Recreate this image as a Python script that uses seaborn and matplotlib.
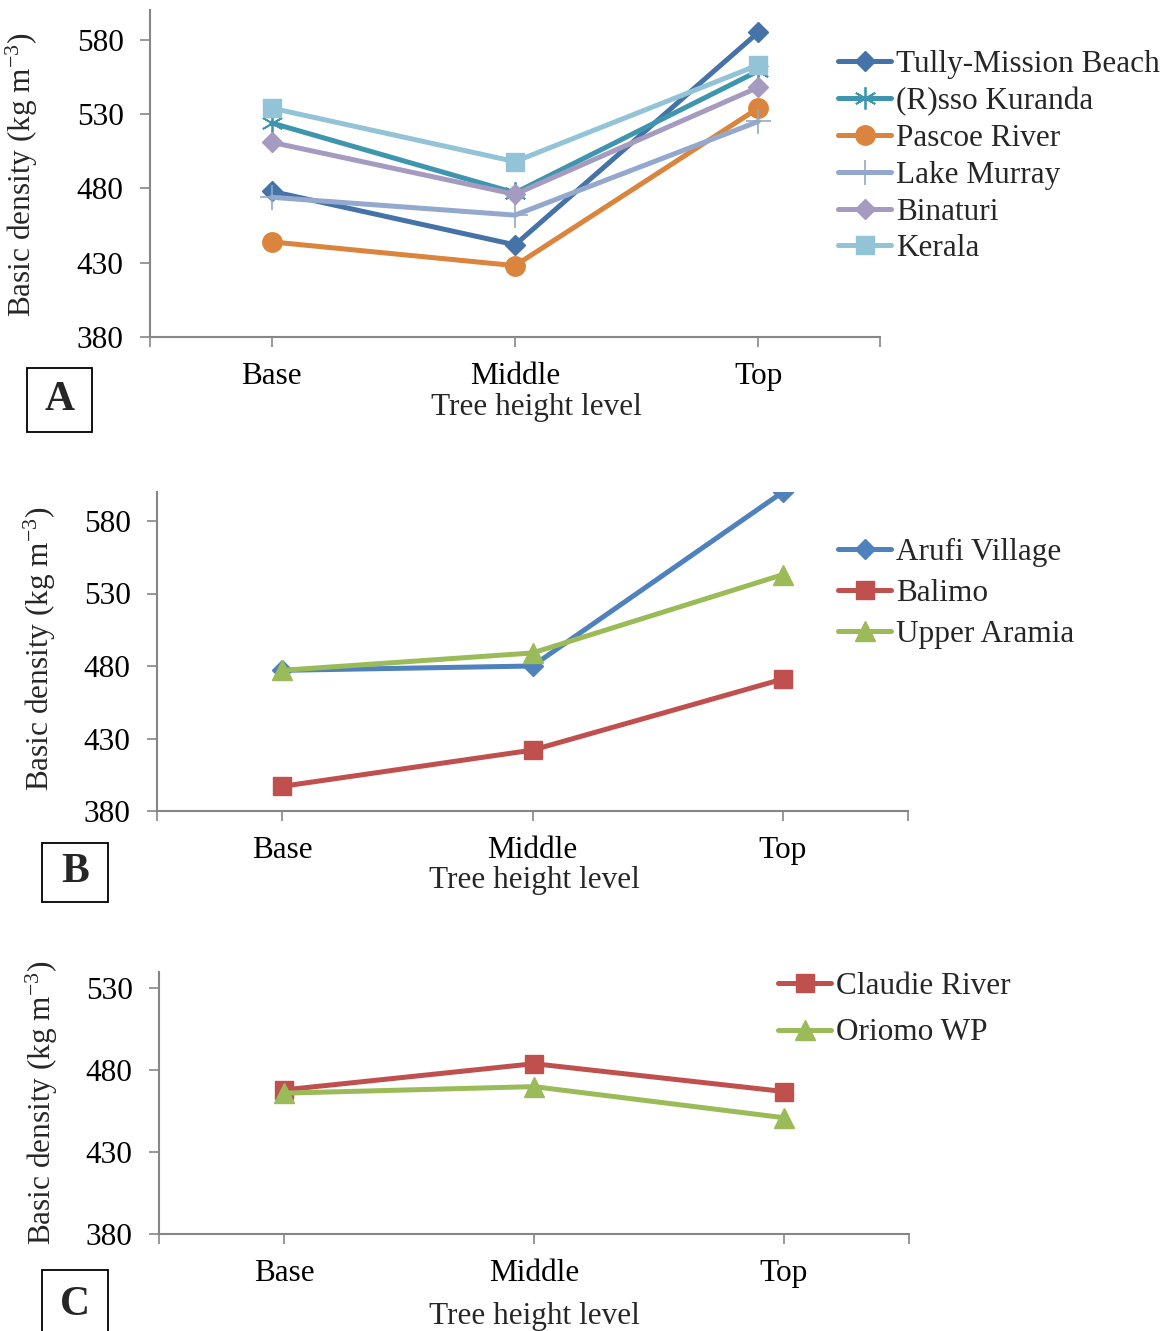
import numpy as np
import pandas as pd
import matplotlib
matplotlib.use("Agg")
import matplotlib.pyplot as plt
from matplotlib.patches import Rectangle
import seaborn as sns

# Tree height levels (category axis)
levels = ["Base", "Middle", "Top"]
y_ticks = [380, 430, 480, 530, 580]
y_ticks_c = [380, 430, 480, 530]

# Panel A: provenances
tully = [478, 442, 585]
kuranda = [524, 477, 559]
pascoe = [444, 428, 534]
lake_murray = [474, 462, 525]
binaturi = [511, 476, 548]
kerala = [534, 498, 563]

# Panel B
arufi = [477, 480, 600]
balimo = [397, 422, 471]
upper_aramia = [477, 489, 543]

# Panel C
claudie = [468, 484, 467]
oriomo = [466, 470, 451]

sns.set_theme(style="white")
plt.rcParams["font.family"] = ["Liberation Serif", "DejaVu Serif"]
plt.rcParams["mathtext.fontset"] = "custom"
plt.rcParams["mathtext.rm"] = "Liberation Serif"
plt.rcParams["mathtext.it"] = "Liberation Serif:italic"

FS = 22.5
AX_GRAY = "#868686"
W, H = 1170, 1331

fig = plt.figure(figsize=(11.7, 13.31), dpi=100)

def make_axes(left, right, top, bottom):
    return fig.add_axes([left / W, 1 - bottom / H, (right - left) / W, (bottom - top) / H])

def style_axes(ax, ylim, yticks, ylab_xy, xlab_xy):
    ax.set_xlim(-0.5, 2.5)
    ax.set_ylim(*ylim)
    ax.set_yticks(yticks)
    ax.set_yticklabels([str(v) for v in yticks], fontsize=FS)
    ax.set_xticks([-0.5, 0, 1, 2, 2.5])
    ax.set_xticklabels(["", "Base", "Middle", "Top", ""], fontsize=FS)
    for side in ["top", "right"]:
        ax.spines[side].set_visible(False)
    for side in ["left", "bottom"]:
        ax.spines[side].set_color(AX_GRAY)
        ax.spines[side].set_linewidth(1.5)
    ax.tick_params(axis="both", direction="out", color=AX_GRAY, width=1.2,
                   length=7, labelcolor="black", left=True, bottom=True)
    ax.tick_params(axis="y", pad=12)
    ax.tick_params(axis="x", pad=11)
    ax.set_ylabel("Basic density (kg m$^{\\mathrm{-3}}$)", fontsize=FS)
    ax.yaxis.set_label_coords(*ylab_xy)
    ax.set_xlabel("Tree height level", fontsize=FS)
    ax.xaxis.set_label_coords(*xlab_xy)
    ax.set_facecolor("white")

def draw_series(ax, values, color, marker, ms, label, mew=1.0):
    df = pd.DataFrame({"level": levels, "density": values})
    sns.lineplot(data=df, x="level", y="density", ax=ax, color=color, lw=3.6,
                 marker=marker, markersize=ms, markeredgecolor=color,
                 markerfacecolor=color, markeredgewidth=mew, label=label,
                 sort=False)

def add_legend(ax, x, y, spacing):
    ax.legend(loc="upper left", bbox_to_anchor=(x / W, 1 - y / H),
              bbox_transform=fig.transFigure, frameon=False, fontsize=FS,
              handlelength=1.7, handletextpad=0.15, labelspacing=spacing,
              borderaxespad=0, borderpad=0)

# ---- Panel A ----
axA = make_axes(150, 880, 10, 337)
draw_series(axA, tully, "#4572A7", "D", 10.5, "Tully-Mission Beach")
draw_series(axA, kuranda, "#3D96AE", (6, 2, 0), 16, "(R)sso Kuranda", mew=1.3)
draw_series(axA, pascoe, "#DB843D", "o", 14, "Pascoe River")
draw_series(axA, lake_murray, "#92A8CD", "+", 18, "Lake Murray", mew=1.2)
draw_series(axA, binaturi, "#A59AC0", "D", 10.5, "Binaturi")
draw_series(axA, kerala, "#92C3D6", "s", 13, "Kerala")
style_axes(axA, (380, 600), y_ticks, (-0.151, 0.495), (0.529, -0.17))
add_legend(axA, 838, 50, 0.25)

# ---- Panel B ----
axB = make_axes(157, 908, 492, 811)
draw_series(axB, arufi, "#4F81BD", "D", 10.5, "Arufi Village")
draw_series(axB, balimo, "#C0504D", "s", 13.5, "Balimo")
draw_series(axB, upper_aramia, "#9BBB59", "^", 14, "Upper Aramia")
style_axes(axB, (380, 600), y_ticks, (-0.132, 0.51), (0.502, -0.173))
add_legend(axB, 838, 538, 0.38)

# ---- Panel C ----
axC = make_axes(159, 909, 972, 1234)
draw_series(axC, claudie, "#C0504D", "s", 13.5, "Claudie River")
draw_series(axC, oriomo, "#9BBB59", "^", 14, "Oriomo WP")
style_axes(axC, (380, 540), y_ticks_c, (-0.132, 0.5), (0.5, -0.26))
add_legend(axC, 778, 972, 0.56)

# Panel letters in boxes
def panel_letter(letter, x0, y0, x1, y1):
    rect = Rectangle((x0 / W, 1 - y1 / H), (x1 - x0) / W, (y1 - y0) / H,
                     transform=fig.transFigure, fill=False, edgecolor="black",
                     linewidth=1.3)
    fig.add_artist(rect)
    fig.text((x0 + x1) / 2 / W, 1 - (y0 + y1) / 2 / H, letter,
             ha="center", va="center", fontsize=30, fontweight="bold")

panel_letter("A", 27, 368, 92, 432)
panel_letter("B", 42, 843, 108, 902)
panel_letter("C", 42, 1270, 108, 1340)

fig.savefig("out.png", dpi=100, facecolor="white")
